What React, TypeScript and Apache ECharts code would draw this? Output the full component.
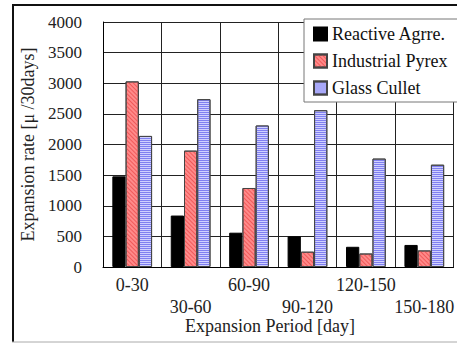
import React, { useEffect, useRef } from "react";
import * as echarts from "echarts";

const periods = ["0-30", "30-60", "60-90", "90-120", "120-150", "150-180"];
const reactiveAgg = [1480, 840, 560, 500, 330, 360];
const industrialPyrex = [3030, 1900, 1290, 250, 220, 270];
const glassCullet = [2140, 2740, 2310, 2560, 1770, 1670];
const yTicks = { min: 0, max: 4000, interval: 500 };

const FONT = "Liberation Serif";

export default function App() {
  const ref = useRef<HTMLDivElement>(null);

  useEffect(() => {
    if (!ref.current) return;
    const chart = echarts.init(ref.current, null, { renderer: "svg" });
    chart.setOption({
      animation: false,
      textStyle: { fontFamily: FONT, color: "#000" },
      grid: { left: 103, top: 22, right: 0, bottom: 76, containLabel: false },
      legend: {
        orient: "vertical",
        left: 304,
        top: 19,
        padding: [6, 60, 5, 9],
        itemWidth: 13,
        itemHeight: 13,
        itemGap: 9,
        icon: "rect",
        backgroundColor: "#fff",
        borderColor: "#777",
        borderWidth: 1,
        textStyle: { fontFamily: FONT, fontSize: 18, color: "#111" },
        data: ["Reactive Agrre.", "Industrial Pyrex", "Glass Cullet"],
      },
      xAxis: {
        type: "category",
        data: periods,
        boundaryGap: true,
        axisLine: { lineStyle: { color: "#000", width: 1 } },
        axisTick: { show: false },
        splitLine: { show: true, lineStyle: { color: "#222", width: 1 } },
        axisLabel: {
          interval: 0,
          margin: 7,
          fontFamily: FONT,
          fontSize: 18,
          color: "#222",
          lineHeight: 22,
          formatter: (v: string, i: number) => (i % 2 === 1 ? "\n" + v : v),
        },
      },
      yAxis: {
        type: "value",
        min: yTicks.min,
        max: yTicks.max,
        interval: yTicks.interval,
        name: "Expansion rate [μ /30days]",
        nameLocation: "middle",
        nameGap: 65,
        nameTextStyle: { fontFamily: FONT, fontSize: 18, color: "#222" },
        axisLine: { show: true, lineStyle: { color: "#000", width: 1 } },
        axisTick: { show: false },
        splitLine: { show: true, lineStyle: { color: "#222", width: 1 } },
        axisLabel: {
          margin: 21,
          fontFamily: FONT,
          fontSize: 17,
          color: "#222",
          formatter: (v: number) => String(v),
        },
      },
      series: [
        {
          name: "Reactive Agrre.",
          type: "bar",
          data: reactiveAgg,
          barGap: "0%",
          barCategoryGap: "32%",
          itemStyle: { color: "#000", borderColor: "#000", borderWidth: 1 },
        },
        {
          name: "Industrial Pyrex",
          type: "bar",
          data: industrialPyrex,
          barGap: "0%",
          barCategoryGap: "32%",
          itemStyle: {
            color: "#ff8a8a",
            borderColor: "#444",
            borderWidth: 1,
            decal: {
              symbol: "rect",
              symbolSize: 1,
              dashArrayX: [1, 0],
              dashArrayY: [1, 2],
              rotation: Math.PI / 4,
              color: "#f05a5a",
            },
          },
        },
        {
          name: "Glass Cullet",
          type: "bar",
          data: glassCullet,
          barGap: "0%",
          barCategoryGap: "32%",
          itemStyle: {
            color: "#d0d0ff",
            borderColor: "#444",
            borderWidth: 1,
            decal: {
              symbol: "rect",
              symbolSize: 1,
              dashArrayX: [1, 0],
              dashArrayY: [1, 1],
              rotation: 0,
              color: "#8080f0",
            },
          },
        },
      ],
      graphic: [
        {
          type: "line",
          shape: { x1: 13, y1: 4, x2: 13, y2: 342 },
          style: { stroke: "#111", lineWidth: 2 },
          silent: true,
        },
        {
          type: "line",
          shape: { x1: 12, y1: 5, x2: 457, y2: 5 },
          style: { stroke: "#111", lineWidth: 2 },
          silent: true,
        },
        {
          type: "line",
          shape: { x1: 12, y1: 342, x2: 457, y2: 342 },
          style: { stroke: "#aaa", lineWidth: 1 },
          silent: true,
        },
        {
          type: "text",
          left: 185,
          top: 317,
          style: {
            text: "Expansion Period [day]",
            fontFamily: FONT,
            fontSize: 18,
            fill: "#222",
          },
        },
      ],
    });
    return () => chart.dispose();
  }, []);

  return (
    <div
      ref={ref}
      style={{ position: "fixed", left: 0, top: 0, width: 457, height: 343, background: "#fff" }}
    />
  );
}
